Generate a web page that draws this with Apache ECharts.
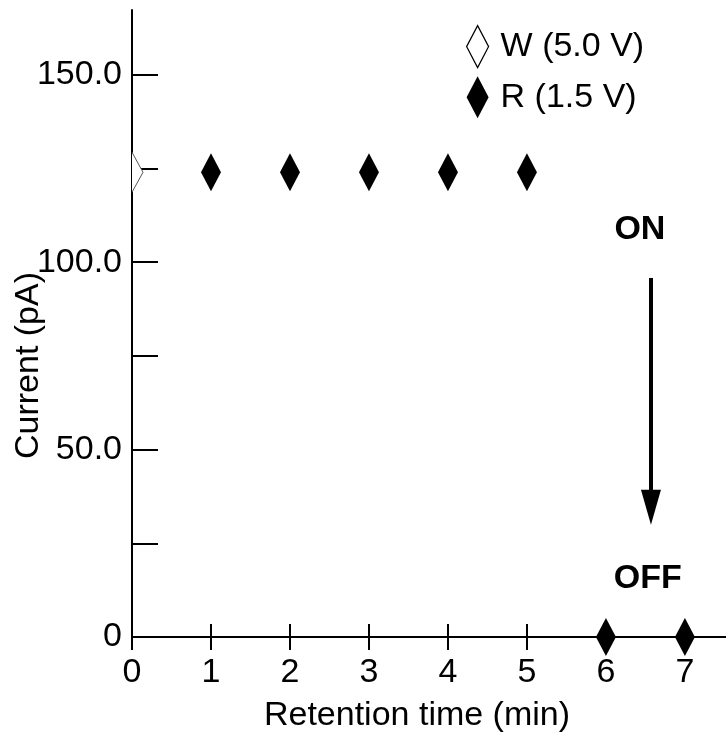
<!DOCTYPE html>
<html>
<head>
<meta charset="utf-8">
<script src="https://cdn.jsdelivr.net/npm/echarts@6/dist/echarts.min.js"></script>
<style>
  html, body { margin: 0; padding: 0; background: #fff; }
  #chart { width: 726px; height: 736px; }
</style>
</head>
<body>
<div id="chart"></div>
<script>
// Retention of the stored state: current read at 1.5 V over time
const seriesNames = ['W (5.0 V)', 'R (1.5 V)'];
const writeTime = [0];
const writeCurrent = [124];
const readTime = [1, 2, 3, 4, 5, 6, 7];
const readCurrent = [124, 124, 124, 124, 124, 0, 0];

const xTickValues = [0, 1, 2, 3, 4, 5, 6, 7];
const yTickValues = [0, 25, 50, 75, 100, 125, 150];
const yLabelValues = [0, 50, 100, 150];

// annotation: switching from ON to OFF
const onLabel = { text: 'ON', x: 6.43, y: 108.6 };
const offLabel = { text: 'OFF', x: 6.53, y: 15.7 };
const arrowX = 6.57, arrowFrom = 95.8, arrowTo = 34.6;

const FONT = '"Liberation Sans", Arial, sans-serif';
const FS = 34;

const chart = echarts.init(document.getElementById('chart'), null, { renderer: 'canvas' });

const xBase = {
  type: 'value', min: 0, max: 7.52, position: 'bottom',
  axisLine: { show: true, onZero: false, lineStyle: { color: '#000', width: 2 } },
  splitLine: { show: false }
};

chart.setOption({
  backgroundColor: '#fff',
  animation: false,
  grid: { left: 132, right: 0, top: 10, bottom: 99, containLabel: false, outerBoundsMode: 'none' },
  legend: {
    orient: 'vertical', left: 461, top: 20,
    itemWidth: 22, itemHeight: 42, itemGap: 8,
    textStyle: { fontFamily: FONT, fontSize: FS, color: '#000', padding: [0, 0, 0, 7] },
    data: [
      { name: seriesNames[0], icon: 'diamond', itemStyle: { color: '#fff', borderColor: '#000', borderWidth: 1.2 } },
      { name: seriesNames[1], icon: 'diamond', itemStyle: { color: '#000', borderWidth: 0 } }
    ]
  },
  xAxis: [
    Object.assign({}, xBase, {
      name: 'Retention time (min)', nameLocation: 'middle', nameGap: 62, nameMoveOverlap: false,
      nameTextStyle: { fontFamily: FONT, fontSize: FS, color: '#000', padding: [0, 24, 0, 0] },
      axisTick: { show: true, inside: true, length: 13, lineStyle: { color: '#000', width: 2 }, customValues: xTickValues },
      axisLabel: { show: true, margin: 19, fontFamily: FONT, fontSize: FS, color: '#000', customValues: xTickValues }
    }),
    Object.assign({}, xBase, {
      axisTick: { show: true, inside: false, length: 13, lineStyle: { color: '#000', width: 2 }, customValues: xTickValues },
      axisLabel: { show: false }
    })
  ],
  yAxis: {
    type: 'value', min: 0, max: 167.3,
    name: 'Current (pA)', nameLocation: 'middle', nameGap: 86, nameMoveOverlap: false,
    nameTextStyle: { fontFamily: FONT, fontSize: FS, color: '#000', padding: [0, 84, 0, 0] },
    axisLine: { show: true, onZero: false, lineStyle: { color: '#000', width: 2 } },
    axisTick: { show: true, inside: true, length: 26, lineStyle: { color: '#000', width: 2 }, customValues: yTickValues },
    axisLabel: {
      show: true, margin: 10, fontFamily: FONT, fontSize: FS, color: '#000',
      customValues: yLabelValues,
      formatter: v => (v === 0 ? '0' : v.toFixed(1))
    },
    splitLine: { show: false }
  },
  series: [
    {
      // open diamond sitting on the y axis, clipped to the plot area
      name: seriesNames[0],
      type: 'custom',
      clip: true,
      itemStyle: { color: '#fff', borderColor: '#000' },
      data: writeTime.map((t, i) => [t, writeCurrent[i]]),
      renderItem: function (params, api) {
        const p = api.coord([api.value(0), api.value(1)]);
        const w = 11, h = 20;
        return {
          type: 'polygon',
          shape: { points: [[p[0], p[1] - h], [p[0] + w, p[1]], [p[0], p[1] + h], [p[0] - w, p[1]]] },
          style: { fill: '#fff', stroke: '#555', lineWidth: 1 }
        };
      }
    },
    {
      name: seriesNames[1],
      type: 'scatter',
      clip: false,
      symbol: 'diamond',
      symbolSize: [20, 38],
      itemStyle: { color: '#000', opacity: 1 },
      emphasis: { disabled: true },
      data: readTime.map((t, i) => [t, readCurrent[i]]),
      markLine: {
        silent: true,
        symbol: ['none', 'triangle'],
        symbolSize: [20, 35],
        label: { show: false },
        lineStyle: { color: '#000', width: 4, type: 'solid', opacity: 1 },
        emphasis: { disabled: true },
        data: [[{ coord: [arrowX, arrowFrom] }, { coord: [arrowX, arrowTo] }]]
      },
      markPoint: {
        silent: true,
        symbol: 'circle',
        symbolSize: 1,
        itemStyle: { color: 'rgba(0,0,0,0)' },
        label: { show: true, position: 'inside', fontFamily: FONT, fontSize: FS, fontWeight: 'bold', color: '#000', formatter: p => p.name },
        data: [
          { name: onLabel.text, coord: [onLabel.x, onLabel.y] },
          { name: offLabel.text, coord: [offLabel.x, offLabel.y] }
        ]
      }
    }
  ]
});
</script>
</body>
</html>
